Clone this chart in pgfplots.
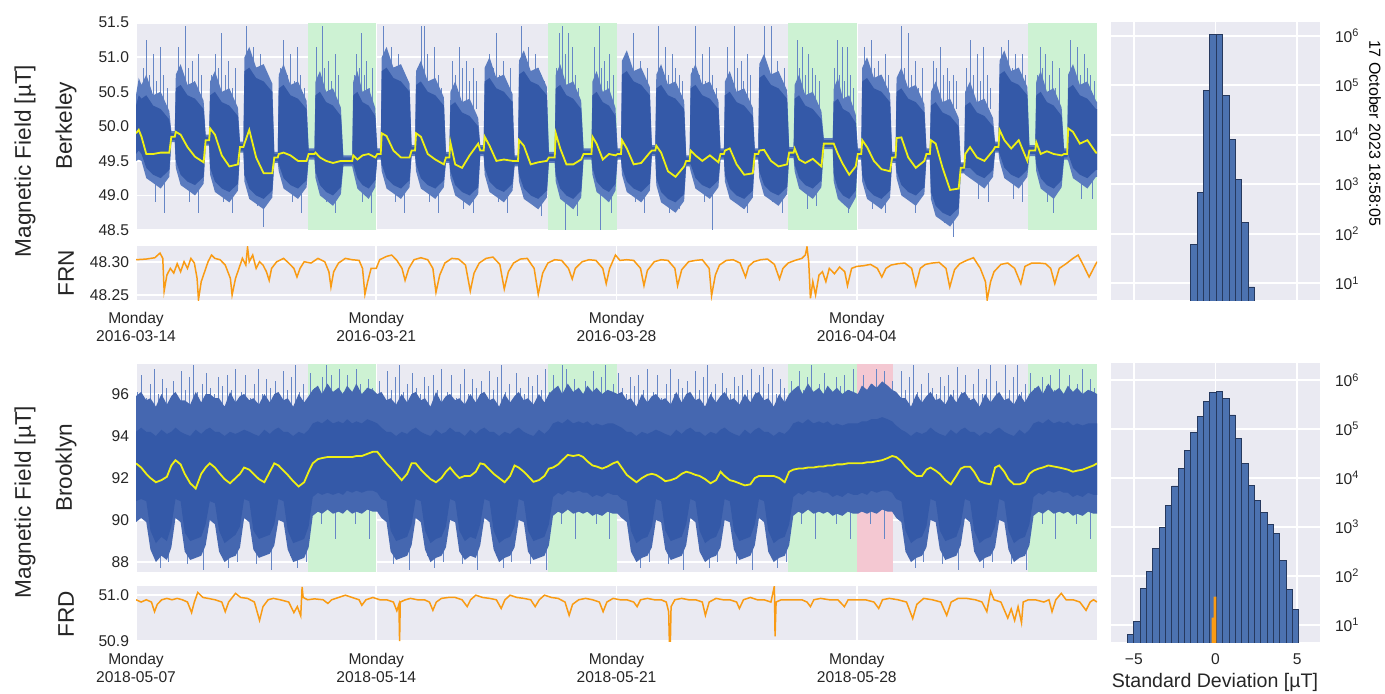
\documentclass[border=0pt]{standalone}
\usepackage{fontspec}
\setmainfont{Liberation Sans}
\usepackage{pgfplots}
\usepackage{pgfplotstable}
\pgfplotsset{compat=1.18}
\usepgfplotslibrary{fillbetween}

\definecolor{bg}{HTML}{EAEAF2}
\definecolor{coreblue}{HTML}{3459A8}
\definecolor{outerblue}{HTML}{5A7BBF}
\definecolor{outerblueB}{HTML}{4567B0}
\definecolor{spikeblue}{HTML}{6686C6}
\definecolor{meanyellow}{HTML}{EEF014}
\definecolor{frorange}{HTML}{F99B14}
\definecolor{wkgreen}{HTML}{CDF2D3}
\definecolor{holred}{HTML}{F4C8D2}
\definecolor{histblue}{HTML}{4C72B0}
\definecolor{histedge}{HTML}{26395E}
\definecolor{txt}{HTML}{262626}

\pgfplotsset{
  panel/.style={
    scale only axis, anchor=south west,
    axis background/.style={fill=bg},
    axis line style={draw=none},
    major tick length=0pt, minor tick length=0pt,
    grid=major, grid style={draw=white, line width=0.8pt},
    tick label style={font=\fontsize{7.8}{9}\selectfont, text=txt},
    /pgf/number format/assume math mode=true,
  },
  tpanel/.style={panel, xmin=0, xmax=28, xtick={0,7,14,21}},
  upspk/.style={draw=none, mark=none, on layer=pre main, error bars/.cd, y dir=plus, y explicit, error mark=none,
    error bar style={draw=spikeblue, line width=0.35pt}},
  dnspk/.style={draw=none, mark=none, on layer=pre main, error bars/.cd, y dir=minus, y explicit, error mark=none,
    error bar style={draw=spikeblue, line width=0.35pt}},
}

\pgfplotstableread{
t olo lo hi ohi m
0.00 49.50 49.60 50.30 50.45 49.90
0.08 49.52 49.65 50.45 50.70 49.95
0.16 49.50 49.60 50.40 50.60 49.85
0.30 49.25 49.40 50.45 50.75 49.60
0.50 49.18 49.30 50.30 50.45 49.60
0.72 49.10 49.25 50.25 50.50 49.62
0.97 49.27 49.37 50.10 50.22 49.62
1.03 49.77 49.80 49.90 49.93 49.85
1.13 49.77 49.80 49.90 49.93 49.85
1.16 49.40 49.50 50.55 50.75 49.92
1.30 49.15 49.30 50.60 50.90 49.88
1.50 49.08 49.20 50.45 50.60 49.70
1.72 49.00 49.15 50.40 50.65 49.56
1.97 49.17 49.27 50.25 50.37 49.48
2.03 49.72 49.75 49.85 49.88 49.80
2.13 49.72 49.75 49.85 49.88 49.80
2.16 49.30 49.40 50.45 50.65 49.97
2.30 49.05 49.20 50.50 50.80 49.88
2.50 48.98 49.10 50.35 50.50 49.58
2.72 48.90 49.05 50.30 50.55 49.42
2.97 49.07 49.17 50.15 50.27 49.45
3.03 49.62 49.65 49.75 49.78 49.70
3.13 49.62 49.65 49.75 49.78 49.70
3.16 49.20 49.30 50.80 51.00 49.75
3.30 48.95 49.10 50.85 51.15 49.95
3.50 48.88 49.00 50.70 50.85 49.55
3.72 48.80 48.95 50.65 50.90 49.32
3.97 48.97 49.07 50.50 50.62 49.32
4.03 49.47 49.50 49.60 49.63 49.55
4.13 49.47 49.50 49.60 49.63 49.55
4.16 49.35 49.45 50.55 50.75 49.60
4.30 49.10 49.25 50.60 50.90 49.62
4.50 49.03 49.15 50.45 50.60 49.58
4.72 48.95 49.10 50.40 50.65 49.50
4.97 49.12 49.22 50.25 50.37 49.50
5.03 49.52 49.55 49.65 49.68 49.60
5.20 49.52 49.55 49.65 49.68 49.60
5.23 49.25 49.35 50.45 50.65 49.62
5.36 49.00 49.15 50.50 50.80 49.55
5.54 48.93 49.05 50.35 50.50 49.50
5.74 48.85 49.00 50.30 50.55 49.47
5.97 49.02 49.12 50.15 50.27 49.50
6.04 49.42 49.45 49.55 49.58 49.50
6.30 49.42 49.45 49.55 49.58 49.50
6.33 49.35 49.45 50.45 50.65 49.58
6.45 49.10 49.25 50.50 50.80 49.52
6.60 49.03 49.15 50.35 50.50 49.58
6.78 48.95 49.10 50.30 50.55 49.60
6.97 49.12 49.22 50.15 50.27 49.55
7.03 49.52 49.55 49.65 49.68 49.60
7.13 49.52 49.55 49.65 49.68 49.60
7.16 49.35 49.45 50.80 51.00 49.90
7.30 49.10 49.25 50.85 51.15 49.86
7.50 49.03 49.15 50.70 50.85 49.65
7.72 48.95 49.10 50.65 50.90 49.55
7.97 49.12 49.22 50.50 50.62 49.55
8.03 49.57 49.60 49.70 49.73 49.65
8.13 49.57 49.60 49.70 49.73 49.65
8.16 49.35 49.45 50.60 50.80 49.90
8.30 49.10 49.25 50.65 50.95 49.85
8.50 49.03 49.15 50.50 50.65 49.60
8.72 48.95 49.10 50.45 50.70 49.52
8.97 49.12 49.22 50.30 50.42 49.45
9.03 49.47 49.50 49.60 49.63 49.55
9.13 49.47 49.50 49.60 49.63 49.55
9.16 49.25 49.35 50.30 50.50 49.77
9.30 49.00 49.15 50.35 50.65 49.45
9.50 48.93 49.05 50.20 50.35 49.40
9.72 48.85 49.00 50.15 50.40 49.58
9.97 49.02 49.12 50.00 50.12 49.75
10.03 49.57 49.60 49.70 49.73 49.65
10.13 49.57 49.60 49.70 49.73 49.65
10.16 49.30 49.40 50.65 50.85 49.85
10.30 49.05 49.20 50.70 51.00 49.72
10.50 48.98 49.10 50.55 50.70 49.50
10.72 48.90 49.05 50.50 50.75 49.52
10.97 49.07 49.17 50.35 50.47 49.50
11.03 49.42 49.45 49.55 49.58 49.50
11.13 49.42 49.45 49.55 49.58 49.50
11.16 49.20 49.30 50.75 50.95 49.80
11.30 48.95 49.10 50.80 51.10 49.72
11.50 48.88 49.00 50.65 50.80 49.45
11.72 48.80 48.95 50.60 50.85 49.48
11.97 48.97 49.07 50.45 50.57 49.50
12.03 49.47 49.50 49.60 49.63 49.55
12.20 49.47 49.50 49.60 49.63 49.55
12.23 49.20 49.30 50.55 50.75 49.90
12.36 48.95 49.10 50.60 50.90 49.68
12.54 48.88 49.00 50.45 50.60 49.45
12.74 48.80 48.95 50.40 50.65 49.45
12.97 48.97 49.07 50.25 50.37 49.52
13.04 49.52 49.55 49.65 49.68 49.60
13.27 49.52 49.55 49.65 49.68 49.60
13.30 49.30 49.40 50.45 50.65 49.85
13.42 49.05 49.20 50.50 50.80 49.75
13.60 48.98 49.10 50.35 50.50 49.52
13.78 48.90 49.05 50.30 50.55 49.60
13.97 49.07 49.17 50.15 50.27 49.58
14.03 49.52 49.55 49.65 49.68 49.60
14.13 49.52 49.55 49.65 49.68 49.60
14.16 49.30 49.40 50.75 50.95 49.80
14.30 49.05 49.20 50.80 51.10 49.68
14.50 48.98 49.10 50.65 50.80 49.45
14.72 48.90 49.05 50.60 50.85 49.47
14.97 49.07 49.17 50.45 50.57 49.62
15.03 49.57 49.60 49.70 49.73 49.65
15.13 49.57 49.60 49.70 49.73 49.65
15.16 49.15 49.25 50.55 50.75 49.72
15.30 48.90 49.05 50.60 50.90 49.62
15.50 48.83 48.95 50.45 50.60 49.35
15.72 48.75 48.90 50.40 50.65 49.27
15.97 48.92 49.02 50.25 50.37 49.42
16.03 49.42 49.45 49.55 49.58 49.50
16.13 49.42 49.45 49.55 49.58 49.50
16.16 49.35 49.45 50.55 50.75 49.65
16.30 49.10 49.25 50.60 50.90 49.58
16.50 49.03 49.15 50.45 50.60 49.50
16.72 48.95 49.10 50.40 50.65 49.58
16.97 49.12 49.22 50.25 50.37 49.48
17.03 49.52 49.55 49.65 49.68 49.60
17.13 49.52 49.55 49.65 49.68 49.60
17.16 49.20 49.30 50.45 50.65 49.65
17.30 48.95 49.10 50.50 50.80 49.68
17.50 48.88 49.00 50.35 50.50 49.45
17.72 48.80 48.95 50.30 50.55 49.30
17.97 48.97 49.07 50.15 50.27 49.32
18.03 49.52 49.55 49.65 49.68 49.60
18.13 49.52 49.55 49.65 49.68 49.60
18.16 49.25 49.35 50.70 50.90 49.65
18.30 49.00 49.15 50.75 51.05 49.66
18.50 48.93 49.05 50.60 50.75 49.50
18.72 48.85 49.00 50.55 50.80 49.42
18.97 49.02 49.12 50.40 50.52 49.45
19.03 49.54 49.57 49.67 49.70 49.62
19.16 49.54 49.57 49.67 49.70 49.62
19.19 49.35 49.45 50.40 50.60 49.68
19.32 49.10 49.25 50.45 50.75 49.52
19.50 49.03 49.15 50.30 50.45 49.47
19.72 48.95 49.10 50.25 50.50 49.53
19.97 49.12 49.22 50.10 50.22 49.42
20.04 49.67 49.70 49.80 49.83 49.75
20.30 49.67 49.70 49.80 49.83 49.75
20.33 49.20 49.30 50.35 50.55 49.75
20.45 48.95 49.10 50.40 50.70 49.60
20.60 48.88 49.00 50.25 50.40 49.45
20.78 48.80 48.95 50.20 50.45 49.30
20.97 48.97 49.07 50.05 50.17 49.42
21.03 49.52 49.55 49.65 49.68 49.60
21.13 49.52 49.55 49.65 49.68 49.60
21.16 49.20 49.30 50.65 50.85 49.80
21.30 48.95 49.10 50.70 51.00 49.70
21.50 48.88 49.00 50.55 50.70 49.50
21.72 48.80 48.95 50.50 50.75 49.38
21.97 48.97 49.07 50.35 50.47 49.35
22.03 49.47 49.50 49.60 49.63 49.55
22.13 49.47 49.50 49.60 49.63 49.55
22.16 49.25 49.35 50.50 50.70 49.83
22.30 49.00 49.15 50.55 50.85 49.84
22.50 48.93 49.05 50.40 50.55 49.55
22.72 48.85 49.00 50.35 50.60 49.40
22.97 49.02 49.12 50.20 50.32 49.50
23.03 49.52 49.55 49.65 49.68 49.60
23.13 49.52 49.55 49.65 49.68 49.60
23.16 48.95 49.05 50.30 50.50 49.80
23.30 48.70 48.85 50.35 50.65 49.75
23.50 48.63 48.75 50.20 50.35 49.40
23.72 48.55 48.70 50.15 50.40 49.08
23.97 48.72 48.82 50.00 50.12 49.10
24.03 49.32 49.35 49.45 49.48 49.40
24.13 49.32 49.35 49.45 49.48 49.40
24.16 49.30 49.40 50.30 50.50 49.60
24.30 49.25 49.40 50.35 50.65 49.70
24.50 49.18 49.30 50.20 50.35 49.55
24.72 49.10 49.25 50.15 50.40 49.50
24.97 49.27 49.37 50.00 50.12 49.65
25.03 49.62 49.65 49.75 49.78 49.70
25.13 49.62 49.65 49.75 49.78 49.70
25.16 49.50 49.60 50.75 50.95 49.95
25.30 49.25 49.40 50.80 51.10 49.80
25.50 49.18 49.30 50.65 50.80 49.68
25.72 49.10 49.25 50.60 50.85 49.80
25.97 49.27 49.37 50.45 50.57 49.50
26.03 49.57 49.60 49.70 49.73 49.65
26.20 49.57 49.60 49.70 49.73 49.65
26.23 49.35 49.45 50.45 50.65 49.77
26.36 49.10 49.25 50.50 50.80 49.60
26.54 49.03 49.15 50.35 50.50 49.64
26.74 48.95 49.10 50.30 50.55 49.60
26.97 49.12 49.22 50.15 50.27 49.58
27.04 49.52 49.55 49.65 49.68 49.60
27.13 49.52 49.55 49.65 49.68 49.60
27.16 49.50 49.60 50.55 50.75 49.97
27.30 49.25 49.40 50.60 50.90 49.92
27.50 49.18 49.30 50.45 50.60 49.75
27.72 49.10 49.25 50.40 50.65 49.80
27.97 49.27 49.37 50.25 50.37 49.62
28.00 49.27 49.37 50.25 50.35 49.62
}\berk

\pgfplotstableread{
t b p
0.20 50.25 0.6
0.30 50.25 1.0
0.40 50.25 0.5
0.50 50.25 0.8
0.60 50.25 0.4
0.70 50.25 0.9
0.80 50.25 0.5
0.90 50.25 0.3
1.22 50.25 0.9
1.31 50.25 0.5
1.43 50.25 1.2
1.52 50.25 0.6
1.63 50.25 0.7
1.71 50.25 0.4
1.82 50.25 0.8
1.91 50.25 0.5
2.20 50.25 0.5
2.30 50.25 0.8
2.40 50.25 0.6
2.50 50.25 1.1
2.60 50.25 0.5
2.70 50.25 0.7
2.80 50.25 0.3
2.90 50.25 0.6
3.22 50.25 1.2
3.31 50.25 0.6
3.43 50.25 0.9
3.52 50.25 0.5
3.63 50.25 0.8
3.71 50.25 0.6
3.82 50.25 0.5
3.91 50.25 0.4
4.20 50.25 0.6
4.30 50.25 1.0
4.40 50.25 0.5
4.50 50.25 0.8
4.60 50.25 0.4
4.70 50.25 0.9
4.80 50.25 0.5
4.90 50.25 0.3
5.26 50.25 0.9
5.34 50.25 0.5
5.42 50.25 1.2
5.50 50.25 0.6
5.60 50.25 0.7
5.70 50.25 0.4
5.80 50.25 0.8
5.90 50.25 0.5
6.36 50.25 0.5
6.42 50.25 0.8
6.50 50.25 0.6
6.57 50.25 1.1
6.64 50.25 0.5
6.72 50.25 0.7
6.80 50.25 0.3
6.90 50.25 0.6
7.22 50.25 1.2
7.31 50.25 0.6
7.43 50.25 0.9
7.52 50.25 0.5
7.63 50.25 0.8
7.71 50.25 0.6
7.82 50.25 0.5
7.91 50.25 0.4
8.20 50.25 0.6
8.30 50.25 1.2
8.40 50.25 1.2
8.50 50.25 0.8
8.60 50.25 0.4
8.70 50.25 0.9
8.80 50.25 0.5
8.90 50.25 0.3
9.22 50.25 0.7
9.31 50.25 0.5
9.43 50.25 0.9
9.52 50.25 0.6
9.63 50.25 0.7
9.71 50.25 0.4
9.82 50.25 0.6
9.91 50.25 0.4
10.20 50.25 0.5
10.30 50.25 0.8
10.40 50.25 0.6
10.50 50.25 1.1
10.60 50.25 0.5
10.70 50.25 0.7
10.80 50.25 0.3
10.90 50.25 0.6
11.22 50.25 1.2
11.31 50.25 0.6
11.43 50.25 0.9
11.52 50.25 0.5
11.63 50.25 0.8
11.71 50.25 0.6
11.82 50.25 0.5
11.91 50.25 0.4
12.26 50.25 0.6
12.34 50.25 1.1
12.42 50.25 1.2
12.50 50.25 0.8
12.60 50.25 1.1
12.70 50.25 0.9
12.80 50.25 0.5
12.90 50.25 0.3
13.36 50.25 0.9
13.42 50.25 0.5
13.50 50.25 1.2
13.57 50.25 0.6
13.64 50.25 0.7
13.72 50.25 0.4
13.80 50.25 0.8
13.90 50.25 0.5
14.20 50.25 0.5
14.30 50.25 0.8
14.40 50.25 0.6
14.50 50.25 1.1
14.60 50.25 0.5
14.70 50.25 0.7
14.80 50.25 0.3
14.90 50.25 0.6
15.22 50.25 1.2
15.31 50.25 0.6
15.43 50.25 0.9
15.52 50.25 0.5
15.63 50.25 0.8
15.71 50.25 0.6
15.82 50.25 0.5
15.91 50.25 0.4
16.20 50.25 0.6
16.30 50.25 1.2
16.40 50.25 0.5
16.50 50.25 0.8
16.60 50.25 0.4
16.70 50.25 0.9
16.80 50.25 0.5
16.90 50.25 0.3
17.22 50.25 0.9
17.31 50.25 0.5
17.43 50.25 1.2
17.52 50.25 0.6
17.63 50.25 0.7
17.71 50.25 0.4
17.82 50.25 0.8
17.91 50.25 0.5
18.20 50.25 0.5
18.30 50.25 1.2
18.40 50.25 0.6
18.50 50.25 1.2
18.60 50.25 0.5
18.70 50.25 0.7
18.80 50.25 0.3
18.90 50.25 0.6
19.26 50.25 1.0
19.34 50.25 0.6
19.42 50.25 0.9
19.50 50.25 0.5
19.60 50.25 0.8
19.70 50.25 0.6
19.80 50.25 0.5
19.90 50.25 0.4
20.36 50.25 0.6
20.42 50.25 1.0
20.50 50.25 0.5
20.57 50.25 0.9
20.64 50.25 0.4
20.72 50.25 0.9
20.80 50.25 0.5
20.90 50.25 0.3
21.22 50.25 0.9
21.31 50.25 0.5
21.43 50.25 1.0
21.52 50.25 0.6
21.63 50.25 0.7
21.71 50.25 0.4
21.82 50.25 0.8
21.91 50.25 0.5
22.20 50.25 0.5
22.30 50.25 1.2
22.40 50.25 0.6
22.50 50.25 1.1
22.60 50.25 0.5
22.70 50.25 0.7
22.80 50.25 0.3
22.90 50.25 0.6
23.22 50.25 0.7
23.31 50.25 0.6
23.43 50.25 0.9
23.52 50.25 0.5
23.63 50.25 0.6
23.71 50.25 0.4
23.82 50.25 0.5
23.91 50.25 0.4
24.20 50.25 0.6
24.30 50.25 1.0
24.40 50.25 0.5
24.50 50.25 0.8
24.60 50.25 0.4
24.70 50.25 0.9
24.80 50.25 0.5
24.90 50.25 0.3
25.22 50.25 0.9
25.31 50.25 0.7
25.43 50.25 1.0
25.52 50.25 0.6
25.63 50.25 0.8
25.71 50.25 0.4
25.82 50.25 0.8
25.91 50.25 0.5
26.26 50.25 0.5
26.34 50.25 0.9
26.42 50.25 0.6
26.50 50.25 0.8
26.60 50.25 0.5
26.70 50.25 0.7
26.80 50.25 0.3
26.90 50.25 0.6
27.22 50.25 1.0
27.31 50.25 0.6
27.43 50.25 0.9
27.52 50.25 0.5
27.63 50.25 0.8
27.71 50.25 0.6
27.82 50.25 0.5
27.91 50.25 0.4
}\berkup

\pgfplotstableread{
t b n
0.55 49.25 0.35
0.82 49.25 0.50
1.55 49.25 0.35
1.82 49.25 0.50
2.55 49.25 0.35
2.82 49.25 0.50
3.55 49.25 0.40
3.70 49.25 0.70
4.55 49.25 0.35
4.82 49.25 0.50
5.55 49.25 0.35
5.82 49.25 0.50
6.60 49.25 0.35
6.85 49.25 0.50
7.55 49.25 0.35
7.82 49.25 0.50
8.55 49.25 0.35
8.82 49.25 0.50
9.55 49.25 0.45
9.82 49.25 0.50
10.55 49.25 0.35
10.82 49.25 0.50
11.55 49.25 0.35
11.82 49.25 0.55
12.50 49.25 0.75
12.85 49.25 0.55
13.53 49.25 0.75
13.85 49.25 0.50
14.55 49.25 0.35
14.82 49.25 0.50
15.55 49.25 0.50
15.82 49.25 0.45
16.55 49.25 0.35
16.80 49.25 0.75
17.55 49.25 0.35
17.82 49.25 0.50
18.55 49.25 0.35
18.82 49.25 0.50
19.55 49.25 0.45
19.82 49.25 0.40
20.60 49.25 0.35
20.75 49.25 0.50
21.45 49.25 0.45
21.82 49.25 0.50
22.55 49.25 0.35
22.72 49.25 0.50
23.55 48.90 0.30
23.80 48.90 0.50
24.55 49.25 0.30
24.82 49.25 0.35
25.55 49.25 0.30
25.82 49.25 0.35
26.55 49.25 0.35
26.72 49.25 0.50
27.55 49.25 0.30
27.85 49.25 0.30
}\berkdn

\pgfplotstableread{
t olo lo hi ohi m
0.00 89.9 90.9 94.2 95.9 92.7
0.15 90.1 91.0 94.4 96.1 92.5
0.30 89.9 90.9 94.2 95.7 92.2
0.42 88.6 89.5 94.2 95.8 92.0
0.58 88.0 88.9 94.0 95.4 91.8
0.74 88.3 89.2 94.3 96.0 91.9
0.90 88.1 89.0 94.1 95.5 92.06
1.03 88.7 89.7 94.2 95.9 92.6
1.15 90.1 91.0 94.4 96.1 92.85
1.30 89.9 90.9 94.2 95.7 92.65
1.42 88.5 89.4 94.1 95.7 92.2
1.58 88.1 89.0 94.0 95.5 91.75
1.74 88.2 89.1 94.3 96.1 91.5
1.90 88.3 89.2 94.1 95.6 92.2
2.03 88.8 89.8 94.3 96.0 92.5
2.15 90.0 90.9 94.4 96.0 92.7
2.30 89.8 90.8 94.2 95.8 92.5
2.42 88.5 89.5 94.2 95.8 92.25
2.58 88.0 88.9 94.0 95.4 91.95
2.74 88.2 89.1 94.2 96.1 91.75
2.90 88.3 89.3 94.1 95.6 92.0
3.03 88.7 89.7 94.2 95.9 92.2
3.15 90.1 91.0 94.3 96.0 92.5
3.30 89.9 90.9 94.2 95.7 92.4
3.42 88.6 89.5 94.1 95.8 92.2
3.58 88.2 89.1 94.0 95.5 91.95
3.74 88.3 89.2 94.3 96.0 91.8
3.90 88.4 89.3 94.1 95.6 92.3
4.03 88.8 89.8 94.3 96.0 92.7
4.15 90.0 91.0 94.4 96.1 92.6
4.30 89.9 90.9 94.2 95.7 92.35
4.42 88.6 89.5 94.2 95.8 92.15
4.58 88.0 88.9 94.0 95.4 91.85
4.74 88.1 89.0 94.2 96.0 91.6
4.90 88.2 89.1 94.1 95.6 91.8
5.03 88.7 89.7 94.3 95.9 92.3
5.15 90.2 91.1 94.6 96.2 92.7
5.30 90.4 91.3 94.7 96.4 92.9
5.42 90.3 91.2 94.6 96.0 92.95
5.58 90.5 91.3 94.8 96.5 93.0
5.74 90.3 91.2 94.6 96.1 93.0
5.90 90.4 91.3 94.7 96.3 93.0
6.03 90.3 91.2 94.6 96.0 93.0
6.15 90.5 91.4 94.8 96.4 93.0
6.30 90.3 91.3 94.6 96.1 93.0
6.42 90.4 91.4 94.7 96.5 93.05
6.58 90.3 91.3 94.6 96.0 93.05
6.74 90.5 91.4 94.8 96.3 93.15
6.90 90.4 91.4 94.7 96.2 93.25
7.03 90.4 91.3 94.6 96.0 93.25
7.15 90.1 91.0 94.4 96.1 93.0
7.30 89.9 90.9 94.2 95.7 92.7
7.42 88.5 89.5 94.2 95.8 92.5
7.58 88.1 89.0 94.0 95.5 92.2
7.74 88.2 89.1 94.2 96.0 91.9
7.90 88.3 89.2 94.1 95.6 92.2
8.03 88.8 89.8 94.3 96.0 92.7
8.15 90.1 91.0 94.4 96.1 92.7
8.30 89.9 90.9 94.2 95.7 92.4
8.42 88.6 89.5 94.1 95.8 92.2
8.58 88.0 88.9 94.0 95.4 91.95
8.74 88.2 89.1 94.3 96.1 91.8
8.90 88.3 89.2 94.1 95.6 92.0
9.03 88.7 89.7 94.2 95.9 92.3
9.15 90.0 91.0 94.4 96.0 92.5
9.30 89.9 90.9 94.2 95.7 92.2
9.42 88.5 89.5 94.2 95.8 92.0
9.58 88.1 89.0 94.0 95.5 92.1
9.74 88.3 89.2 94.3 96.0 92.1
9.90 88.2 89.1 94.1 95.6 92.3
10.03 88.8 89.8 94.3 96.0 92.7
10.15 90.1 91.0 94.4 96.1 92.65
10.30 89.9 90.9 94.2 95.7 92.4
10.42 88.6 89.5 94.2 95.8 92.2
10.58 88.0 88.9 94.0 95.4 92.0
10.74 88.2 89.1 94.2 96.0 91.8
10.90 88.3 89.2 94.1 95.6 92.1
11.03 88.7 89.7 94.3 95.9 92.6
11.15 90.0 91.0 94.4 96.1 92.5
11.30 89.9 90.9 94.2 95.7 92.3
11.42 88.5 89.5 94.1 95.8 92.1
11.58 88.1 89.0 94.0 95.5 91.82
11.74 88.2 89.1 94.3 96.0 91.9
11.90 88.3 89.2 94.1 95.6 92.1
12.03 88.8 89.8 94.3 96.0 92.45
12.15 90.2 91.1 94.6 96.2 92.5
12.30 90.4 91.3 94.7 96.4 92.65
12.42 90.3 91.2 94.6 96.0 92.85
12.58 90.5 91.4 94.8 96.5 93.1
12.74 90.3 91.3 94.6 96.1 93.05
12.90 90.4 91.4 94.7 96.3 93.1
13.03 90.3 91.3 94.6 96.0 93.0
13.15 90.4 91.3 94.7 96.4 92.8
13.30 90.2 91.1 94.5 96.1 92.6
13.42 90.3 91.2 94.6 96.3 92.55
13.58 90.2 91.1 94.5 96.0 92.45
13.74 90.4 91.3 94.6 96.2 92.55
13.90 90.3 91.2 94.6 96.1 92.7
14.03 90.3 91.2 94.5 96.0 92.78
14.15 90.1 91.0 94.4 96.1 92.5
14.30 89.9 90.9 94.2 95.7 92.15
14.42 88.5 89.5 94.2 95.8 92.0
14.58 88.0 88.9 94.0 95.4 91.8
14.74 88.2 89.1 94.2 96.0 92.0
14.90 88.3 89.2 94.1 95.6 92.15
15.03 88.7 89.7 94.2 95.9 92.2
15.15 90.0 91.0 94.3 96.0 92.15
15.30 89.9 90.9 94.2 95.7 92.0
15.42 88.6 89.5 94.1 95.8 91.85
15.58 88.1 89.0 94.0 95.5 91.9
15.74 88.2 89.1 94.3 96.1 92.0
15.90 88.3 89.2 94.1 95.6 92.2
16.03 88.8 89.8 94.3 96.0 92.3
16.15 90.1 91.0 94.4 96.1 92.25
16.30 89.9 90.9 94.2 95.7 92.15
16.42 88.5 89.5 94.2 95.8 92.1
16.58 88.0 88.9 94.0 95.4 91.95
16.74 88.2 89.1 94.2 96.0 91.75
16.90 88.3 89.2 94.1 95.6 91.9
17.03 88.7 89.7 94.3 95.9 92.3
17.15 90.0 91.0 94.4 96.1 92.1
17.30 89.9 90.9 94.2 95.7 91.9
17.42 88.6 89.5 94.1 95.8 91.85
17.58 88.1 89.0 94.0 95.5 91.75
17.74 88.2 89.1 94.3 96.0 91.65
17.90 88.3 89.2 94.1 95.6 91.7
18.03 88.8 89.8 94.3 96.0 92.0
18.15 90.1 91.0 94.4 96.1 92.1
18.30 89.9 90.9 94.2 95.7 92.1
18.42 88.5 89.5 94.2 95.8 92.1
18.58 88.0 88.9 94.0 95.4 92.1
18.74 88.2 89.1 94.2 96.0 92.0
18.90 88.3 89.2 94.1 95.6 91.8
19.03 88.8 89.8 94.3 96.0 92.3
19.15 90.2 91.1 94.6 96.2 92.4
19.30 90.4 91.3 94.7 96.4 92.45
19.42 90.3 91.2 94.6 96.0 92.45
19.58 90.5 91.4 94.8 96.5 92.5
19.74 90.3 91.3 94.6 96.1 92.5
19.90 90.4 91.4 94.7 96.3 92.55
20.03 90.3 91.3 94.6 96.0 92.55
20.15 90.4 91.3 94.7 96.4 92.6
20.30 90.2 91.1 94.5 96.1 92.6
20.42 90.3 91.2 94.6 96.3 92.65
20.58 90.2 91.1 94.5 96.0 92.65
20.74 90.4 91.3 94.6 96.2 92.7
20.90 90.3 91.2 94.6 96.1 92.7
21.03 90.3 91.2 94.6 96.0 92.7
21.15 90.4 91.3 94.7 96.4 92.7
21.30 90.3 91.2 94.7 96.2 92.75
21.42 90.4 91.4 94.8 96.5 92.75
21.58 90.3 91.3 94.8 96.3 92.8
21.74 90.5 91.4 94.9 96.6 92.85
21.90 90.4 91.4 94.8 96.4 92.95
22.03 90.4 91.3 94.7 96.2 93.05
22.15 90.1 91.0 94.5 96.1 93.0
22.30 89.9 90.9 94.3 95.8 92.8
22.42 88.5 89.5 94.2 95.8 92.55
22.58 88.0 88.9 94.0 95.4 92.3
22.74 88.2 89.1 94.2 96.0 92.1
22.90 88.3 89.2 94.1 95.6 92.1
23.03 88.7 89.7 94.2 95.9 92.4
23.15 90.0 91.0 94.4 96.1 92.5
23.30 89.9 90.9 94.2 95.7 92.35
23.42 88.6 89.5 94.1 95.8 92.2
23.58 88.1 89.0 94.0 95.5 91.9
23.74 88.2 89.1 94.3 96.0 91.7
23.90 88.3 89.2 94.1 95.6 92.1
24.03 88.8 89.8 94.3 96.0 92.45
24.15 90.1 91.0 94.4 96.1 92.54
24.30 89.9 90.9 94.2 95.7 92.54
24.42 88.5 89.5 94.2 95.8 92.3
24.58 88.0 88.9 94.0 95.4 91.85
24.74 88.2 89.1 94.2 96.0 91.75
24.90 88.3 89.2 94.1 95.6 91.7
25.03 88.7 89.7 94.3 95.9 92.5
25.15 90.0 91.0 94.4 96.1 92.6
25.30 89.9 90.9 94.2 95.7 92.3
25.42 88.6 89.5 94.1 95.8 91.95
25.58 88.0 88.9 94.0 95.5 91.7
25.74 88.2 89.1 94.3 96.0 91.7
25.90 88.3 89.2 94.1 95.6 91.8
26.03 88.8 89.8 94.3 96.0 92.2
26.15 90.2 91.1 94.6 96.2 92.35
26.30 90.4 91.3 94.7 96.4 92.45
26.42 90.3 91.2 94.6 96.0 92.5
26.58 90.5 91.4 94.8 96.5 92.6
26.74 90.3 91.3 94.6 96.1 92.55
26.90 90.4 91.4 94.7 96.3 92.5
27.03 90.3 91.3 94.6 96.0 92.45
27.15 90.4 91.3 94.7 96.4 92.4
27.30 90.2 91.1 94.5 96.1 92.3
27.42 90.3 91.2 94.6 96.3 92.35
27.58 90.2 91.1 94.5 96.0 92.4
27.74 90.4 91.3 94.6 96.2 92.5
27.90 90.3 91.2 94.6 96.1 92.6
28.00 90.3 91.2 94.6 96.0 92.7
}\brook

\pgfplotstableread{
t b p
0.05 94.3 1.8
0.17 94.3 2.6
0.29 94.3 1.5
0.41 94.3 2.2
0.53 94.3 2.9
0.65 94.3 1.7
0.77 94.3 2.4
0.89 94.3 2.0
1.08 94.3 2.3
1.20 94.3 1.6
1.32 94.3 2.8
1.44 94.3 1.9
1.56 94.3 2.5
1.68 94.3 3.1
1.80 94.3 1.8
1.92 94.3 2.2
2.05 94.3 2.7
2.17 94.3 2.0
2.29 94.3 1.7
2.41 94.3 2.5
2.53 94.3 2.1
2.65 94.3 2.6
2.77 94.3 1.9
2.89 94.3 2.9
3.08 94.3 1.8
3.20 94.3 2.6
3.32 94.3 1.5
3.44 94.3 2.2
3.56 94.3 2.9
3.68 94.3 1.7
3.80 94.3 2.4
3.92 94.3 2.0
4.05 94.3 2.3
4.17 94.3 1.6
4.29 94.3 2.8
4.41 94.3 1.9
4.53 94.3 2.5
4.65 94.3 3.1
4.77 94.3 1.8
4.89 94.3 2.2
5.08 94.3 2.7
5.20 94.3 2.0
5.32 94.3 1.7
5.44 94.3 2.5
5.56 94.3 3.1
5.68 94.3 2.6
5.80 94.3 1.9
5.92 94.3 2.9
6.05 94.3 1.8
6.17 94.3 2.6
6.29 94.3 1.5
6.41 94.3 2.9
6.53 94.3 2.2
6.65 94.3 1.7
6.77 94.3 2.4
6.89 94.3 2.0
7.08 94.3 2.3
7.20 94.3 1.6
7.32 94.3 2.8
7.44 94.3 1.9
7.56 94.3 2.5
7.68 94.3 3.1
7.80 94.3 1.8
7.92 94.3 2.2
8.05 94.3 2.7
8.17 94.3 2.0
8.29 94.3 1.7
8.41 94.3 2.5
8.53 94.3 2.1
8.65 94.3 2.6
8.77 94.3 1.9
8.89 94.3 2.9
9.08 94.3 1.8
9.20 94.3 2.6
9.32 94.3 1.5
9.44 94.3 2.2
9.56 94.3 2.9
9.68 94.3 1.7
9.80 94.3 2.4
9.92 94.3 2.0
10.05 94.3 2.3
10.17 94.3 1.6
10.29 94.3 2.8
10.41 94.3 1.9
10.53 94.3 2.5
10.65 94.3 3.1
10.77 94.3 1.8
10.89 94.3 2.2
11.08 94.3 2.7
11.20 94.3 2.0
11.32 94.3 1.7
11.44 94.3 2.5
11.56 94.3 2.1
11.68 94.3 2.6
11.80 94.3 1.9
11.92 94.3 2.9
12.05 94.3 1.8
12.17 94.3 2.6
12.29 94.3 1.5
12.41 94.3 3.1
12.53 94.3 2.9
12.65 94.3 1.7
12.77 94.3 2.4
12.89 94.3 2.0
13.08 94.3 2.3
13.20 94.3 1.6
13.32 94.3 2.8
13.44 94.3 1.9
13.56 94.3 2.5
13.68 94.3 3.1
13.80 94.3 1.8
13.92 94.3 2.2
14.05 94.3 2.7
14.17 94.3 2.0
14.29 94.3 1.7
14.41 94.3 2.5
14.53 94.3 2.1
14.65 94.3 2.6
14.77 94.3 1.9
14.89 94.3 2.9
15.08 94.3 1.8
15.20 94.3 2.6
15.32 94.3 1.5
15.44 94.3 2.2
15.56 94.3 2.9
15.68 94.3 1.7
15.80 94.3 2.4
15.92 94.3 2.0
16.05 94.3 2.3
16.17 94.3 1.6
16.29 94.3 2.8
16.41 94.3 1.9
16.53 94.3 2.5
16.65 94.3 3.1
16.77 94.3 1.8
16.89 94.3 2.2
17.08 94.3 2.7
17.20 94.3 2.0
17.32 94.3 1.7
17.44 94.3 2.5
17.56 94.3 2.1
17.68 94.3 2.6
17.80 94.3 1.9
17.92 94.3 2.9
18.05 94.3 1.8
18.17 94.3 2.6
18.29 94.3 3.0
18.41 94.3 2.2
18.53 94.3 2.9
18.65 94.3 1.7
18.77 94.3 2.4
18.89 94.3 2.0
19.08 94.3 2.3
19.20 94.3 1.6
19.32 94.3 2.8
19.44 94.3 1.9
19.56 94.3 2.5
19.68 94.3 3.1
19.80 94.3 1.8
19.92 94.3 2.2
20.05 94.3 2.7
20.17 94.3 2.0
20.29 94.3 1.7
20.41 94.3 2.5
20.53 94.3 2.1
20.65 94.3 2.6
20.77 94.3 1.9
20.89 94.3 2.9
21.08 94.3 1.8
21.20 94.3 2.6
21.32 94.3 1.5
21.44 94.3 2.2
21.56 94.3 2.9
21.68 94.3 1.7
21.80 94.3 2.8
21.92 94.3 2.0
22.05 94.3 2.3
22.17 94.3 1.6
22.29 94.3 2.8
22.41 94.3 1.9
22.53 94.3 2.5
22.65 94.3 3.1
22.77 94.3 1.8
22.89 94.3 2.2
23.08 94.3 2.7
23.20 94.3 2.0
23.32 94.3 1.7
23.44 94.3 2.5
23.56 94.3 2.1
23.68 94.3 2.6
23.80 94.3 1.9
23.92 94.3 3.0
24.05 94.3 1.8
24.17 94.3 2.6
24.29 94.3 1.5
24.41 94.3 2.2
24.53 94.3 2.9
24.65 94.3 1.7
24.77 94.3 2.4
24.89 94.3 3.1
25.08 94.3 2.3
25.20 94.3 1.6
25.32 94.3 3.1
25.44 94.3 1.9
25.56 94.3 2.5
25.68 94.3 3.1
25.80 94.3 1.8
25.92 94.3 2.2
26.05 94.3 2.7
26.17 94.3 2.0
26.29 94.3 1.7
26.41 94.3 2.5
26.53 94.3 2.1
26.65 94.3 2.6
26.77 94.3 1.9
26.89 94.3 2.9
27.08 94.3 1.8
27.20 94.3 2.6
27.32 94.3 1.5
27.44 94.3 2.2
27.56 94.3 2.9
27.68 94.3 1.7
27.80 94.3 2.4
27.92 94.3 2.0
}\brookup

\pgfplotstableread{
t b n
0.50 89.3 1.0
0.70 89.3 1.6
0.95 89.3 1.3
1.50 89.3 1.4
1.70 89.3 0.9
1.95 89.3 1.7
2.50 89.3 1.0
2.70 89.3 1.6
2.95 89.3 1.3
3.50 89.3 1.4
3.70 89.3 0.9
3.95 89.3 1.7
4.50 89.3 1.0
4.70 89.3 1.6
4.95 89.3 1.3
5.40 91.0 1.2
5.80 91.0 1.9
6.40 91.0 1.2
6.80 91.0 1.9
7.50 89.3 1.4
7.70 89.3 0.9
7.95 89.3 1.7
8.50 89.3 1.0
8.70 89.3 1.6
8.95 89.3 1.3
9.50 89.3 1.4
9.70 89.3 0.9
9.95 89.3 1.7
10.50 89.3 1.0
10.70 89.3 1.6
10.95 89.3 1.3
11.50 89.3 1.4
11.70 89.3 0.9
11.95 89.3 1.7
12.40 91.0 1.2
12.80 91.0 1.9
13.40 91.0 1.2
13.80 91.0 1.9
14.50 89.3 1.0
14.70 89.3 1.6
14.95 89.3 1.3
15.50 89.3 1.4
15.70 89.3 0.9
15.95 89.3 1.7
16.50 89.3 1.0
16.70 89.3 1.6
16.95 89.3 1.3
17.50 89.3 1.4
17.70 89.3 0.9
17.95 89.3 1.7
18.50 89.3 1.0
18.70 89.3 1.6
18.95 89.3 1.3
19.40 91.0 1.2
19.80 91.0 1.9
20.40 91.0 1.2
20.80 91.0 1.9
21.40 91.0 1.2
21.80 91.0 1.9
22.50 89.3 1.0
22.70 89.3 1.6
22.95 89.3 1.3
23.50 89.3 1.4
23.70 89.3 0.9
23.95 89.3 1.7
24.50 89.3 1.0
24.70 89.3 1.6
24.95 89.3 1.3
25.50 89.3 1.4
25.70 89.3 0.9
25.95 89.3 1.7
26.40 91.0 1.2
26.80 91.0 1.9
27.40 91.0 1.2
27.80 91.0 1.9
}\brookdn

\begin{document}
\begin{tikzpicture}

% ---------------- Berkeley main ----------------
\begin{axis}[tpanel, at={(68pt,231.5pt)}, width=480.5pt, height=103.65pt,
  ymin=48.5, ymax=51.5, ytick={48.5,49,49.5,50,50.5,51,51.5},
  yticklabel style={/pgf/number format/.cd, fixed, fixed zerofill, precision=1},
  xticklabels={}]
\addplot[draw=none, fill=wkgreen, on layer=pre main] coordinates {(5,48.5) (5,51.5) (7,51.5) (7,48.5)};
\addplot[draw=none, fill=wkgreen, on layer=pre main] coordinates {(12,48.5) (12,51.5) (14,51.5) (14,48.5)};
\addplot[draw=none, fill=wkgreen, on layer=pre main] coordinates {(19,48.5) (19,51.5) (21,51.5) (21,48.5)};
\addplot[draw=none, fill=wkgreen, on layer=pre main] coordinates {(26,48.5) (26,51.5) (28,51.5) (28,48.5)};
\addplot[upspk] table[x=t, y=b, y error plus=p]{\berkup};
\addplot[dnspk] table[x=t, y=b, y error minus=n]{\berkdn};
\addplot[draw=none, name path=OH] table[x=t,y=ohi]{\berk};
\addplot[draw=none, name path=OL] table[x=t,y=olo]{\berk};
\addplot[fill=outerblue, draw=none] fill between[of=OH and OL];
\addplot[draw=none, name path=IH] table[x=t,y=hi]{\berk};
\addplot[draw=none, name path=IL] table[x=t,y=lo]{\berk};
\addplot[fill=coreblue, draw=none] fill between[of=IH and IL];
\addplot[meanyellow, line width=0.9pt] table[x=t,y=m]{\berk};
\end{axis}

% ---------------- FRN ----------------
\begin{axis}[tpanel, at={(68pt,196.5pt)}, width=480.5pt, height=27pt,
  ymin=48.2425, ymax=48.3236, ytick={48.25,48.30},
  yticklabel style={/pgf/number format/.cd, fixed, fixed zerofill, precision=2},
  xticklabels={{Monday\\2016-03-14},{Monday\\2016-03-21},{Monday\\2016-03-28},{Monday\\2016-04-04}},
  xticklabel style={align=center, yshift=-2.5pt}]
\addplot[frorange, line width=0.75pt] table[x=t,y=v]{
t v
0.0 48.303
0.3 48.304
0.55 48.306
0.7 48.313
0.78 48.305
0.82 48.256
0.9 48.28
1.0 48.29
1.1 48.283
1.2 48.297
1.3 48.285
1.4 48.300
1.5 48.29
1.6 48.305
1.7 48.298
1.78 48.275
1.82 48.243
1.9 48.27
2.0 48.285
2.1 48.30
2.2 48.31
2.3 48.305
2.45 48.303
2.6 48.295
2.75 48.275
2.8 48.25
2.9 48.275
3.0 48.29
3.1 48.305
3.2 48.295
3.25 48.322
3.3 48.30
3.4 48.31
3.5 48.29
3.6 48.30
3.7 48.295
3.8 48.285
3.88 48.272
3.95 48.29
4.1 48.30
4.3 48.305
4.45 48.298
4.6 48.29
4.69 48.277
4.78 48.29
4.9 48.30
5.1 48.298
5.3 48.305
5.5 48.30
5.62 48.285
5.68 48.262
5.76 48.285
5.9 48.298
6.1 48.305
6.3 48.303
6.5 48.302
6.6 48.29
6.67 48.251
6.75 48.27
6.85 48.29
7.0 48.29
7.1 48.303
7.3 48.308
7.45 48.31
7.6 48.302
7.75 48.29
7.84 48.272
7.95 48.29
8.1 48.303
8.3 48.306
8.5 48.303
8.65 48.29
8.74 48.254
8.85 48.28
9.0 48.298
9.2 48.305
9.4 48.304
9.6 48.295
9.74 48.256
9.85 48.283
10.0 48.298
10.2 48.305
10.4 48.307
10.6 48.296
10.73 48.259
10.85 48.285
11.0 48.298
11.2 48.304
11.4 48.305
11.6 48.29
11.72 48.251
11.85 48.283
12.0 48.298
12.2 48.303
12.4 48.302
12.6 48.29
12.71 48.274
12.8 48.29
13.0 48.30
13.2 48.303
13.4 48.302
13.6 48.29
13.7 48.267
13.8 48.29
13.97 48.31
14.1 48.302
14.3 48.303
14.5 48.302
14.7 48.29
14.8 48.264
14.9 48.287
15.1 48.30
15.3 48.303
15.5 48.302
15.7 48.29
15.78 48.264
15.9 48.288
16.1 48.30
16.3 48.302
16.5 48.303
16.7 48.29
16.77 48.249
16.88 48.28
17.0 48.295
17.2 48.302
17.4 48.303
17.6 48.298
17.76 48.277
17.85 48.293
18.0 48.30
18.2 48.303
18.4 48.304
18.6 48.296
18.75 48.274
18.85 48.29
19.0 48.298
19.2 48.302
19.4 48.305
19.5 48.31
19.55 48.322
19.6 48.30
19.65 48.245
19.72 48.27
19.8 48.25
19.9 48.28
20.0 48.285
20.1 48.27
20.2 48.29
20.35 48.282
20.5 48.292
20.65 48.285
20.73 48.264
20.85 48.29
21.0 48.293
21.2 48.294
21.4 48.296
21.6 48.29
21.73 48.277
21.85 48.29
22.0 48.295
22.2 48.297
22.4 48.298
22.6 48.29
22.72 48.264
22.85 48.29
23.0 48.296
23.2 48.298
23.4 48.299
23.6 48.29
23.71 48.262
23.85 48.288
24.0 48.297
24.2 48.302
24.4 48.306
24.6 48.29
24.75 48.27
24.8 48.243
24.9 48.27
25.0 48.285
25.2 48.296
25.4 48.298
25.6 48.29
25.78 48.267
25.9 48.293
26.1 48.298
26.3 48.298
26.5 48.297
26.65 48.29
26.77 48.267
26.9 48.29
27.1 48.297
27.3 48.305
27.45 48.31
27.6 48.295
27.77 48.277
27.9 48.29
28.0 48.30
};
\end{axis}

% ---------------- Berkeley histogram ----------------
\begin{axis}[panel, at={(555.5pt,196.5pt)}, width=104.5pt, height=139pt,
  ymode=log, xmin=-6.4, xmax=6.4, ymin=4.57, ymax=1.9e6,
  xtick={-5,0,5}, xticklabels={},
  ytick={10,100,1000,10000,100000,1000000},
  yticklabels={10\textsuperscript{1},10\textsuperscript{2},10\textsuperscript{3},10\textsuperscript{4},10\textsuperscript{5},10\textsuperscript{6}},
  yticklabel pos=right, yticklabel style={xshift=4pt}]
\addplot[ybar interval, fill=histblue, draw=histedge, line width=0.4pt] coordinates {
(-1.511,61) (-1.122,690) (-0.733,79000) (-0.344,1070000) (0.044,1070000) (0.433,63000)
(0.822,7900) (1.211,1230) (1.600,170) (1.989,8.4) (2.378,8.4)};
\end{axis}

% ---------------- Brooklyn main ----------------
\begin{axis}[tpanel, at={(68pt,60.65pt)}, width=480.5pt, height=103.85pt,
  ymin=87.54, ymax=97.43, ytick={88,90,92,94,96},
  xticklabels={}]
\addplot[draw=none, fill=wkgreen, on layer=pre main] coordinates {(5,87.54) (5,97.43) (7,97.43) (7,87.54)};
\addplot[draw=none, fill=wkgreen, on layer=pre main] coordinates {(12,87.54) (12,97.43) (14,97.43) (14,87.54)};
\addplot[draw=none, fill=wkgreen, on layer=pre main] coordinates {(19,87.54) (19,97.43) (21,97.43) (21,87.54)};
\addplot[draw=none, fill=holred, on layer=pre main] coordinates {(21,87.54) (21,97.43) (22.05,97.43) (22.05,87.54)};
\addplot[draw=none, fill=wkgreen, on layer=pre main] coordinates {(26,87.54) (26,97.43) (28,97.43) (28,87.54)};
\addplot[upspk] table[x=t, y=b, y error plus=p]{\brookup};
\addplot[dnspk] table[x=t, y=b, y error minus=n]{\brookdn};
\addplot[draw=none, name path=BOH] table[x=t,y=ohi]{\brook};
\addplot[draw=none, name path=BOL] table[x=t,y=olo]{\brook};
\addplot[fill=outerblueB, draw=none] fill between[of=BOH and BOL];
\addplot[draw=none, name path=BIH] table[x=t,y=hi]{\brook};
\addplot[draw=none, name path=BIL] table[x=t,y=lo]{\brook};
\addplot[fill=coreblue, draw=none] fill between[of=BIH and BIL];
\addplot[meanyellow, line width=0.9pt] table[x=t,y=m]{\brook};
\end{axis}

% ---------------- FRD ----------------
\begin{axis}[tpanel, at={(68pt,26pt)}, width=480.5pt, height=27.5pt,
  ymin=50.9, ymax=51.02, ytick={50.9,51.0},
  yticklabel style={/pgf/number format/.cd, fixed, fixed zerofill, precision=1},
  xticklabels={{Monday\\2018-05-07},{Monday\\2018-05-14},{Monday\\2018-05-21},{Monday\\2018-05-28}},
  xticklabel style={align=center, yshift=-2.5pt}]
\addplot[frorange, line width=0.75pt] table[x=t,y=v]{
t v
0.0 50.99
0.15 50.985
0.3 50.99
0.45 50.985
0.54 50.964
0.62 50.98
0.75 50.99
0.9 50.993
1.05 50.99
1.2 50.993
1.35 50.99
1.5 50.985
1.62 50.962
1.7 50.985
1.8 51.006
1.95 50.995
2.1 50.993
2.3 50.99
2.5 50.985
2.6 50.964
2.7 50.985
2.9 51.004
3.05 50.995
3.25 50.993
3.45 50.985
3.6 50.945
3.7 50.975
3.85 50.99
4.0 50.993
4.2 50.99
4.45 50.985
4.6 50.962
4.7 50.975
4.8 50.955
4.84 51.018
4.87 50.995
5.0 50.99
5.2 50.992
5.45 50.99
5.59 50.982
5.7 50.99
5.9 50.995
6.1 51.0
6.3 50.995
6.5 50.99
6.58 50.978
6.7 50.99
6.9 50.995
7.1 50.99
7.3 50.99
7.5 50.985
7.6 50.966
7.66 50.98
7.68 50.90
7.70 50.985
7.85 50.99
8.0 50.993
8.2 50.99
8.4 50.99
8.55 50.985
8.65 50.967
8.75 50.985
8.9 50.993
9.1 50.995
9.3 50.995
9.5 50.99
9.65 50.975
9.75 50.99
9.9 51.0
10.1 50.995
10.3 50.993
10.5 50.99
10.64 50.971
10.75 50.99
10.9 51.0
11.1 50.995
11.3 50.993
11.5 50.99
11.63 50.975
11.75 50.99
11.9 51.0
12.1 50.995
12.3 50.993
12.5 50.985
12.62 50.956
12.72 50.98
12.9 50.99
13.1 50.993
13.3 50.99
13.5 50.985
13.61 50.964
13.72 50.985
13.9 50.993
14.1 50.99
14.3 50.99
14.5 50.985
14.6 50.975
14.7 50.99
14.9 50.993
15.1 50.99
15.3 50.99
15.45 50.985
15.52 50.964
15.54 50.90
15.57 50.90
15.59 50.975
15.7 50.99
15.9 50.993
16.1 50.99
16.3 50.99
16.5 50.985
16.59 50.956
16.7 50.985
16.9 50.993
17.1 50.99
17.3 50.99
17.5 50.985
17.58 50.971
17.7 50.99
17.9 50.995
18.1 50.99
18.3 50.99
18.5 50.985
18.6 51.02
18.62 50.91
18.65 50.985
18.8 50.99
19.0 50.99
19.2 50.99
19.4 50.99
19.55 50.985
19.65 50.975
19.75 50.99
19.95 50.993
20.2 50.99
20.45 50.99
20.64 50.975
20.75 50.99
21.0 50.99
21.25 50.99
21.5 50.985
21.64 50.971
21.75 50.99
21.95 50.993
22.2 50.99
22.45 50.985
22.63 50.949
22.75 50.98
22.95 50.993
23.2 50.99
23.45 50.985
23.62 50.956
23.75 50.985
23.95 50.993
24.2 50.993
24.45 50.99
24.65 50.985
24.79 50.964
24.9 51.008
25.0 50.99
25.2 50.985
25.4 50.95
25.5 50.97
25.6 50.945
25.7 50.975
25.8 50.94
25.85 50.985
26.0 50.99
26.2 50.99
26.45 50.985
26.6 50.99
26.69 50.964
26.8 50.99
26.96 51.004
27.1 50.99
27.3 50.99
27.5 50.985
27.68 50.967
27.8 50.985
27.9 50.99
28.0 50.985
};
\end{axis}

% ---------------- Brooklyn histogram ----------------
\begin{axis}[panel, at={(555.5pt,25.5pt)}, width=104.5pt, height=139.5pt,
  ymode=log, xmin=-6.4, xmax=6.4, ymin=4.47, ymax=2.24e6,
  xtick={-5,0,5}, xticklabels={−5,0,5},
  xticklabel style={yshift=-2.5pt},
  ytick={10,100,1000,10000,100000,1000000},
  yticklabels={10\textsuperscript{1},10\textsuperscript{2},10\textsuperscript{3},10\textsuperscript{4},10\textsuperscript{5},10\textsuperscript{6}},
  yticklabel pos=right, yticklabel style={xshift=4pt}]
\addplot[ybar interval, fill=histblue, draw=histedge, line width=0.4pt] coordinates {
(-5.400,6.3) (-5.011,12) (-4.622,56) (-4.233,122) (-3.844,360) (-3.456,970)
(-3.067,2700) (-2.678,6900) (-2.289,16000) (-1.900,36000) (-1.511,85000)
(-1.122,178000) (-0.733,360000) (-0.344,550000) (0.044,580000) (0.433,430000)
(0.822,195000) (1.211,65000) (1.600,20000) (1.989,7200) (2.378,3500)
(2.767,2000) (3.156,1130) (3.544,740) (3.933,205) (4.322,53) (4.711,21) (5.100,21)};
\addplot[ybar interval, fill=frorange, draw=none] coordinates {(-0.24,14) (-0.12,38) (0.05,38)};
\end{axis}

% ---------------- labels ----------------
\node[rotate=90, font=\fontsize{11.3}{13}\selectfont, text=txt] at (12.5pt,266pt) {Magnetic Field [µT]};
\node[rotate=90, font=\fontsize{11.3}{13}\selectfont, text=txt] at (33pt,283.5pt) {Berkeley};
\node[rotate=90, font=\fontsize{11.3}{13}\selectfont, text=txt] at (33pt,210pt) {FRN};
\node[rotate=90, font=\fontsize{11.3}{13}\selectfont, text=txt] at (12.5pt,95.5pt) {Magnetic Field [µT]};
\node[rotate=90, font=\fontsize{11.3}{13}\selectfont, text=txt] at (33pt,112.5pt) {Brooklyn};
\node[rotate=90, font=\fontsize{11.3}{13}\selectfont, text=txt] at (33pt,39.5pt) {FRD};
\node[font=\fontsize{9.8}{12}\selectfont, text=txt] at (607.5pt,5.5pt) {Standard Deviation [µT]};
\node[rotate=-90, font=\fontsize{8}{9.5}\selectfont, text=black] at (687.5pt,280pt) {17 October 2023 18:58:05};
\pgfresetboundingbox
\useasboundingbox (0,0) rectangle (692.5pt,346.5pt);
\end{tikzpicture}
\end{document}
